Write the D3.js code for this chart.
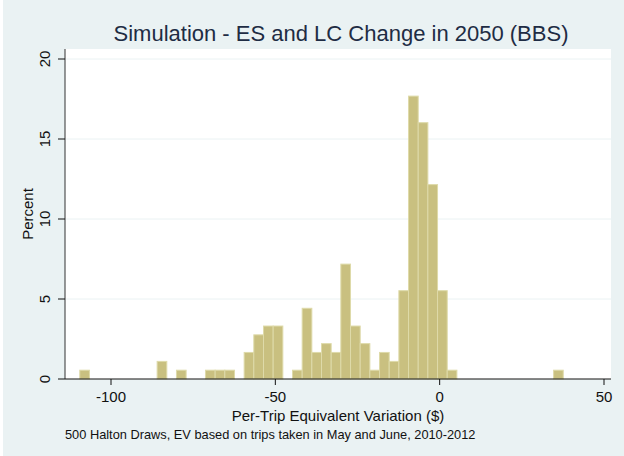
<html><head>
<title>Simulation - ES and LC Change in 2050 (BBS)</title>
<script src="https://d3js.org/d3.v7.min.js"></script>
<style>
  body { margin: 0; background: #fff; }
  text { font-family: "Liberation Sans", Arial, sans-serif; }
  line.grid { stroke: #eaf2f3; stroke-width: 1px; }
</style>
</head>
<body>
<svg id="chart" width="624" height="456"></svg>

<script>
// Histogram data: 50 bins starting at binStart, each binWidth wide ($)
const binStart = -109.5;
const binWidth = 2.942;
const percents = [
  0.55, 0, 0, 0, 0, 0, 0, 0, 1.1, 0,
  0.55, 0, 0, 0.55, 0.55, 0.55, 0, 1.66, 2.76, 3.31,
  3.31, 0, 0.55, 4.42, 1.66, 2.21, 1.66, 7.18, 3.31, 2.21,
  0.55, 1.66, 1.1, 5.52, 17.68, 16.02, 12.15, 5.52, 0.55, 0,
  0, 0, 0, 0, 0, 0, 0, 0, 0, 0.55
];
const xTicks = [-100, -50, 0, 50];
const yTicks = [0, 5, 10, 15, 20];

const svg = d3.select("#chart");
const W = +svg.attr("width"), H = +svg.attr("height");

// plot region
const plotLeft = 65, plotRight = 611, plotTop = 49, plotBottom = 379;

const x = d3.scaleLinear().domain([-100, 50]).range([111, 604]);
const y = d3.scaleLinear().domain([0, 20]).range([plotBottom, 59]);

// backgrounds
svg.append("rect").attr("width", W).attr("height", H).attr("fill", "#fff");
svg.append("rect").attr("x", 3).attr("width", W - 3).attr("height", H).attr("fill", "#eaf2f3");
svg.append("rect")
   .attr("x", plotLeft).attr("y", plotTop)
   .attr("width", plotRight - plotLeft).attr("height", plotBottom - plotTop)
   .attr("fill", "#fff");

// gridlines
svg.selectAll("line.grid").data(yTicks.filter(d => d > 0))
   .join("line").attr("class", "grid")
   .attr("x1", plotLeft).attr("x2", plotRight)
   .attr("y1", d => y(d)).attr("y2", d => y(d));

// bars
const bins = percents.map((p, i) => ({x0: binStart + i * binWidth, x1: binStart + (i + 1) * binWidth, p: p}));
svg.selectAll("rect.bar").data(bins.filter(d => d.p > 0))
   .join("rect").attr("class", "bar")
   .attr("x", d => x(d.x0))
   .attr("width", d => x(d.x1) - x(d.x0))
   .attr("y", d => y(d.p))
   .attr("height", d => y(0) - y(d.p))
   .attr("fill", "#c9c080")
   .attr("stroke", "#dedaa9")
   .attr("stroke-width", 1);

// y axis
const yAxis = svg.append("g").attr("transform", "translate(" + plotLeft + ",0)");
yAxis.append("line").attr("x1", 0).attr("x2", 0).attr("y1", plotTop).attr("y2", plotBottom)
     .attr("stroke", "#333");
yAxis.selectAll("line.tick").data(yTicks).join("line").attr("class", "tick")
     .attr("x1", -7).attr("x2", 0).attr("y1", d => y(d)).attr("y2", d => y(d))
     .attr("stroke", "#111");
yAxis.selectAll("text").data(yTicks).join("text")
     .attr("transform", d => "translate(-15," + y(d) + ") rotate(-90)")
     .attr("text-anchor", "middle")
     .attr("font-size", "15px").attr("fill", "#111")
     .text(d => d);

// x axis
const xAxis = svg.append("g").attr("transform", "translate(0," + plotBottom + ")");
xAxis.append("line").attr("x1", plotLeft).attr("x2", plotRight).attr("y1", 0).attr("y2", 0)
     .attr("stroke", "#111");
xAxis.selectAll("line.tick").data(xTicks).join("line").attr("class", "tick")
     .attr("x1", d => x(d)).attr("x2", d => x(d)).attr("y1", 0).attr("y2", 6)
     .attr("stroke", "#111");
xAxis.selectAll("text").data(xTicks).join("text")
     .attr("x", d => x(d)).attr("y", 23)
     .attr("text-anchor", "middle")
     .attr("font-size", "15px").attr("fill", "#111")
     .text(d => d);

// titles
const midX = (plotLeft + plotRight) / 2;
svg.append("text").attr("x", midX + 3).attr("y", 41)
   .attr("text-anchor", "middle").attr("font-size", "22px").attr("fill", "#1e2c44")
   .text("Simulation - ES and LC Change in 2050 (BBS)");
svg.append("text").attr("x", midX).attr("y", 421)
   .attr("text-anchor", "middle").attr("font-size", "15px").attr("fill", "#111")
   .text("Per-Trip Equivalent Variation ($)");
svg.append("text")
   .attr("transform", "translate(33," + (plotTop + plotBottom) / 2 + ") rotate(-90)")
   .attr("text-anchor", "middle").attr("font-size", "15px").attr("fill", "#111")
   .text("Percent");
svg.append("text").attr("x", plotLeft).attr("y", 439)
   .attr("font-size", "12.8px").attr("fill", "#111")
   .text("500 Halton Draws, EV based on trips taken in May and June, 2010-2012");
</script>
</body>
</html>
